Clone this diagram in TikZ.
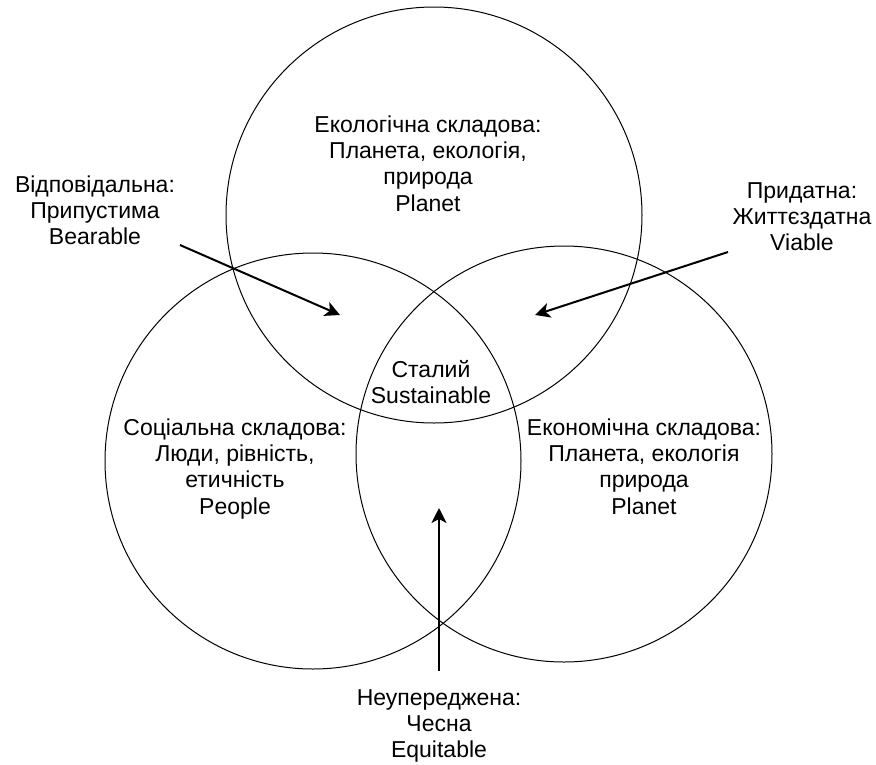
\documentclass[tikz,border=0pt]{standalone}
\usepackage{fontspec}
\setmainfont{Liberation Sans}
\usetikzlibrary{arrows.meta}
\newcommand{\lblfont}{\fontsize{23}{26.4}\selectfont}
\tikzset{
  ring/.style={circle, draw=black, line width=1pt, minimum size=416pt, inner sep=0pt},
  lbl/.style={align=center, inner sep=0pt, anchor=north, font=\lblfont},
  pointer/.style={draw=black, line width=2pt, -{Stealth[length=15pt, width=15pt, inset=4pt]}}
}
\begin{document}
\begin{tikzpicture}[x=1pt, y=-1pt]
  \useasboundingbox (0,0) rectangle (876,764);
  % circles
  \node[ring] (eco) at (434,215) {};
  \node[ring] (soc) at (313,461) {};
  \node[ring] (econ) at (564,454) {};
  % labels inside circles
  \node[lbl] (ecot) at (428,113.5) {\strut Екологічна складова:\\Планета, екологія,\\природа\\Planet};
  \node[lbl] (soct) at (235,416.5) {\strut Соціальна складова:\\Люди, рівність,\\етичність\\People};
  \node[lbl] (econt) at (644,416.5) {\strut Економічна складова:\\Планета, екологія\\природа\\Planet};
  \node[lbl] (sust) at (431,358.5) {\strut Сталий\\Sustainable};
  % outer labels
  \node[lbl] (bear) at (95,173.5) {\strut Відповідальна:\\Припустима\\Bearable};
  \node[lbl] (viab) at (802,179.5) {\strut Придатна:\\Життєздатна\\Viable};
  \node[lbl] (equi) at (439,686.5) {\strut Неупереджена:\\Чесна\\Equitable};
  % arrow ends
  \coordinate (bearS) at (180,245);
  \coordinate (bearT) at (340,315);
  \coordinate (viabS) at (728,252);
  \coordinate (viabT) at (535,315);
  \coordinate (equiS) at (439,671);
  \coordinate (equiT) at (439,508);
  \draw[pointer] (bearS) -- (bearT);
  \draw[pointer] (viabS) -- (viabT);
  \draw[pointer] (equiS) -- (equiT);
\end{tikzpicture}
\end{document}
